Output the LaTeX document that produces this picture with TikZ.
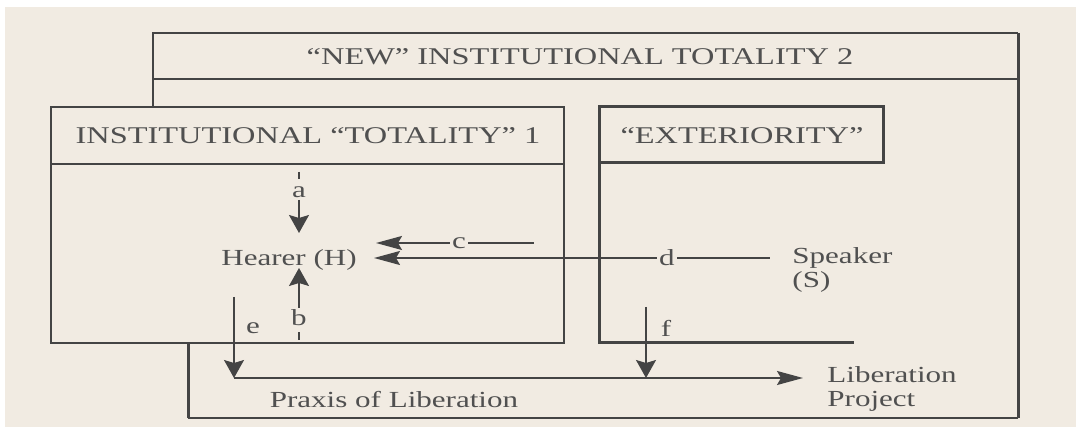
\documentclass[tikz,border=0pt]{standalone}
\usepackage{fontspec}
\setmainfont{Liberation Serif}[FakeStretch=1.35]
\usetikzlibrary{arrows.meta}

\definecolor{paper}{RGB}{241,235,226}
\definecolor{ink}{RGB}{68,68,68}
\definecolor{inktext}{RGB}{80,80,80}

\begin{document}
\begin{tikzpicture}[
    x=0.5pt, y=-0.5pt,
    frame/.style={draw=ink, line width=0.8pt},
    heavy/.style={draw=ink, line width=1.5pt},
    tick/.style={draw=ink, line width=0.8pt},
    varr/.style={draw=ink, line width=0.8pt, -{Stealth[length=9pt,width=10pt,inset=1.5pt]}},
    harr/.style={draw=ink, line width=0.8pt, -{Stealth[length=13pt,width=7pt,inset=2pt]}},
    head/.style={text=inktext, font=\fontsize{12}{14}\selectfont, inner sep=0pt},
    lbl/.style ={text=inktext, font=\fontsize{11.5}{12}\selectfont, inner sep=1pt},
]
\useasboundingbox (0,0) rectangle (1076,427);
\fill[paper] (5,7) rectangle (1076,427);

% "new" totality 2
\draw[frame] (153,107) -- (153,33) -- (1018,33);
\draw[frame] (153,79) -- (1018,79);
\draw[heavy] (1018,33) -- (1018,418);
\draw[frame] (1018,418) -- (188,418);
\draw[heavy] (188,418) -- (188,343);
% totality 1
\draw[frame] (51,107) rectangle (564,343);
\draw[frame] (51,164) -- (564,164);
% exteriority
\draw[heavy] (599,107) rectangle (883,163);
\draw[heavy] (599,163) -- (599,342) -- (854,342);

\node[head] (newhead)  at (580,57)  {“NEW” INSTITUTIONAL TOTALITY 2};
\node[head] (insthead) at (308,136) {INSTITUTIONAL “TOTALITY” 1};
\node[head] (exthead)  at (742,136) {“EXTERIORITY”};

\node[lbl] (hearer) at (289,260) {Hearer (H)};
\node[lbl, anchor=west, align=left] (speaker) at (790,270) {Speaker\\(S)};
\node[lbl] (praxis) at (394,400) {Praxis of Liberation};
\node[lbl, anchor=west, align=left] (project) at (825,389) {Liberation\\Project};

\node[lbl] (la) at (299,192) {a};
\node[lbl] (lb) at (299,318) {b};
\node[lbl] (lc) at (459,243) {c};
\node[lbl] (ld) at (667,258) {d};
\node[lbl] (le) at (253,328) {e};
\node[lbl] (lf) at (666,328) {f};

% arrow tips and free ends
\coordinate (atip) at (299,233);
\coordinate (btip) at (299,268);
\coordinate (ctip) at (376,243);
\coordinate (cend) at (534,243);
\coordinate (dtip) at (374,258);
\coordinate (dend) at (770,258);
\coordinate (etop) at (234,297);
\coordinate (ebend) at (234,378);
\coordinate (ftop) at (646,307);
\coordinate (ptip) at (803,378);

\draw[tick] (299,172) -- (299,179);
\draw[varr] (la.south) -- (atip);
\draw[tick] (299,332) -- (299,340);
\draw[varr] (lb.north) -- (btip);
\draw[harr] (lc.west |- ctip) -- (ctip);
\draw[tick] (lc.east |- cend) -- (cend);
\draw[harr] (ld.west |- dtip) -- (dtip);
\draw[tick] (ld.east |- dend) -- (dend);
\draw[varr] (etop) -- (ebend);
\draw[harr] (ebend) -- (ptip);
\draw[varr] (ftop) -- (ftop |- ptip);
\end{tikzpicture}
\end{document}
